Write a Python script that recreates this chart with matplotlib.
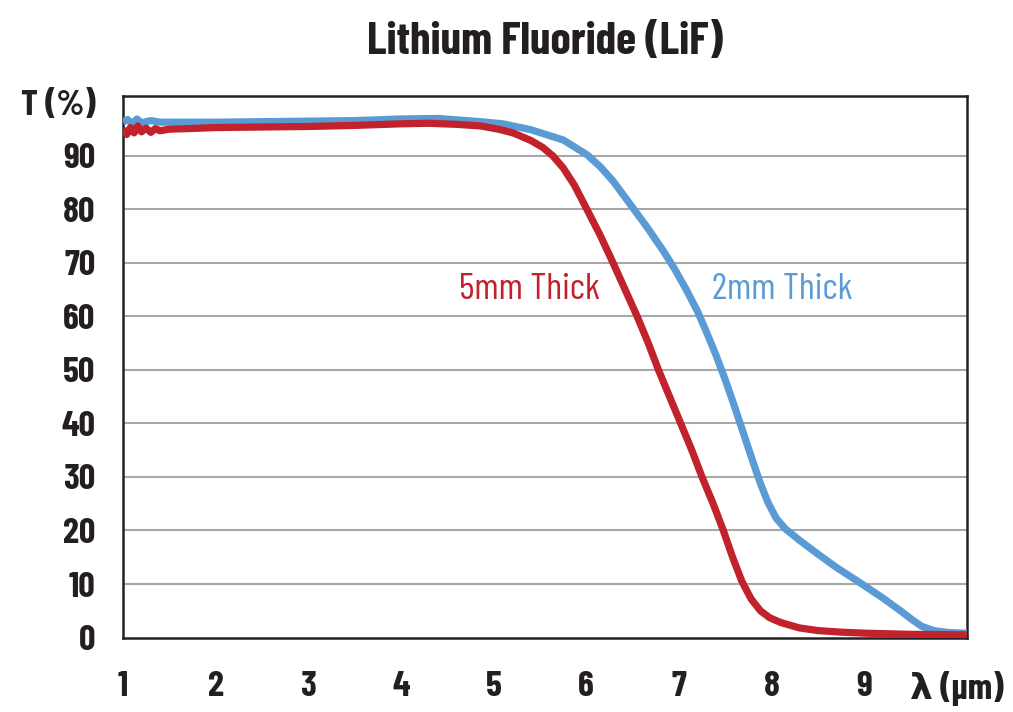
import matplotlib
matplotlib.use('Agg')
import matplotlib.pyplot as plt

# wavelength (um) vs transmission (%)
x_5mm = [1.0, 1.04, 1.08, 1.12, 1.16, 1.2, 1.25, 1.3, 1.35, 1.4, 1.5, 1.7, 2.0, 2.5, 3.0,
         3.5, 4.0, 4.3, 4.6, 4.86, 5.05, 5.21, 5.4, 5.53, 5.64, 5.75, 5.87, 5.99, 6.15,
         6.29, 6.42, 6.55, 6.67, 6.78, 6.9, 7.02, 7.14, 7.25, 7.37, 7.48, 7.58, 7.68,
         7.78, 7.88, 7.98, 8.1, 8.3, 8.5, 8.75, 9.03, 9.5, 10.11]
t_5mm = [95.0, 94.0, 95.3, 94.3, 95.6, 94.5, 95.2, 94.4, 95.1, 94.7, 95.0, 95.1, 95.3, 95.4, 95.5,
         95.7, 96.0, 96.1, 95.9, 95.6, 95.0, 94.3, 92.9, 91.6, 90.0, 87.8, 84.6, 80.6, 75.2,
         70.0, 65.0, 60.0, 55.0, 50.0, 45.0, 40.0, 35.0, 30.0, 25.0, 20.0, 15.0, 10.5,
         7.2, 5.0, 3.7, 2.8, 1.8, 1.3, 1.0, 0.8, 0.6, 0.5]

x_2mm = [1.0, 1.05, 1.1, 1.15, 1.2, 1.3, 1.4, 1.6, 2.0, 2.5, 3.0, 3.5, 4.0, 4.4, 4.86, 5.1,
         5.4, 5.75, 6.01, 6.15, 6.29, 6.46, 6.66, 6.83, 6.95, 7.08, 7.2, 7.3, 7.4, 7.5,
         7.6, 7.7, 7.8, 7.88, 7.96, 8.05, 8.15, 8.3, 8.5, 8.7, 8.95, 9.2, 9.4, 9.52,
         9.62, 9.75, 9.9, 10.11]
t_2mm = [96.3, 96.8, 96.0, 96.9, 96.2, 96.6, 96.3, 96.3, 96.3, 96.4, 96.5, 96.6, 96.9, 97.0, 96.4, 96.0,
         94.9, 93.0, 90.2, 88.0, 85.3, 81.3, 76.6, 72.3, 69.0, 65.0, 61.0, 57.0, 52.8, 48.2,
         43.2, 38.0, 32.8, 28.8, 25.3, 22.3, 20.3, 18.2, 15.6, 13.1, 10.3, 7.4, 4.9, 3.3,
         2.1, 1.3, 0.95, 0.8]

x_ticks = [1, 2, 3, 4, 5, 6, 7, 8, 9, 10]
x_labels = ['1', '2', '3', '4', '5', '6', '7', '8', '9', 'λ (μm)']
y_ticks = [0, 10, 20, 30, 40, 50, 60, 70, 80, 90, 100]
y_labels = ['0', '10', '20', '30', '40', '50', '60', '70', '80', '90', 'T (%)']

red = '#C1222B'
blue = '#5B9BD5'
dark = '#231F20'
fonts = ['Barlow Condensed', 'DejaVu Sans']

fig = plt.figure(figsize=(10.13, 7.12), dpi=100)
ax = fig.add_axes([0.1214, 0.1046, 0.8332, 0.7606])

ax.plot(x_2mm, t_2mm, color=blue, lw=5.2, solid_capstyle='butt', solid_joinstyle='round', zorder=3)
ax.plot(x_5mm, t_5mm, color=red, lw=5.2, solid_capstyle='butt', solid_joinstyle='round', zorder=4)

ax.set_xlim(1, 10.11)
ax.set_ylim(0, 101.2)

for v in y_ticks[1:-1]:
    ax.axhline(v, color='#A8A8A8', lw=1.5, zorder=1)

ax.set_xticks(x_ticks)
ax.set_xticklabels(x_labels, family=fonts, fontweight='bold', fontsize=26, color=dark)
ax.set_yticks(y_ticks)
ax.set_yticklabels(y_labels, family=fonts, fontweight='bold', fontsize=26, color=dark)
ax.tick_params(axis='x', length=0, pad=24)
ax.tick_params(axis='y', length=0, pad=20)

for s in ax.spines.values():
    s.set_linewidth(1.8)
    s.set_color('#222222')

ax.text(6.15, 65, '5mm Thick', color=red, fontsize=27, family=fonts, ha='right', va='center')
ax.text(7.36, 65, '2mm Thick', color=blue, fontsize=27, family=fonts, ha='left', va='center')

ax.set_title('Lithium Fluoride (LiF)', family=fonts, fontweight='bold', fontsize=33,
             color=dark, pad=30)

fig.savefig('out.png', dpi=100)
